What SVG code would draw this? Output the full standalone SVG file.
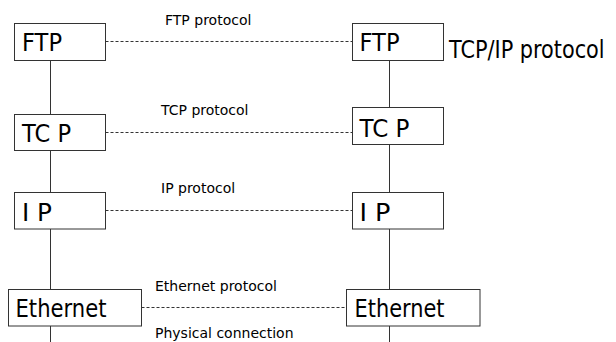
<svg xmlns="http://www.w3.org/2000/svg" width="616" height="342" viewBox="0 0 616 342">
<style>
.box{fill:#fff;stroke:#333;stroke-width:1}
.big{font-family:"DejaVu Sans","Verdana",sans-serif;font-size:24px;fill:#000}
.small{font-family:"DejaVu Sans","Verdana",sans-serif;font-size:14px;fill:#000}
.solid{stroke:#333;stroke-width:1;fill:none}
.dash{stroke:#333;stroke-width:1;fill:none;stroke-dasharray:3,2}
</style>
<rect width="616" height="342" fill="#fff"/>
<g id="connectors">
<line class="solid" x1="50.5" y1="60.5" x2="50.5" y2="114.5"/>
<line class="solid" x1="50.5" y1="150.5" x2="50.5" y2="192.5"/>
<line class="solid" x1="50.5" y1="229" x2="50.5" y2="289.5"/>
<line class="solid" x1="50.5" y1="326" x2="50.5" y2="342"/>
<line class="solid" x1="389.5" y1="60.5" x2="389.5" y2="107.5"/>
<line class="solid" x1="389.5" y1="144.5" x2="389.5" y2="192.5"/>
<line class="solid" x1="389.5" y1="229" x2="389.5" y2="289.5"/>
<line class="solid" x1="389.5" y1="326" x2="389.5" y2="342"/>
<line class="dash" x1="105.5" y1="41.5" x2="352.5" y2="41.5"/>
<line class="dash" x1="105.5" y1="132.5" x2="352.5" y2="132.5"/>
<line class="dash" x1="105.5" y1="210.5" x2="352.5" y2="210.5"/>
<line class="dash" x1="141.5" y1="307.5" x2="346.5" y2="307.5"/>
</g>
<g id="labels">
<text class="small" x="165" y="25">FTP protocol</text>
<text class="small" x="161" y="115">TCP protocol</text>
<text class="small" x="161" y="193">IP protocol</text>
<text class="small" x="155" y="291">Ethernet protocol</text>
<text class="small" x="155" y="338">Physical connection</text>
<text class="big" transform="translate(449,57.5) scale(1,1.22)" x="0" y="0" style="font-size:20.8px">TCP/IP protocol</text>
</g>
<g id="ftp-left"><rect class="box" x="14.5" y="23.5" width="91" height="37"/><text class="big" x="22" y="50.7" textLength="40" lengthAdjust="spacingAndGlyphs">FTP</text></g>
<g id="ftp-right"><rect class="box" x="352.5" y="23.5" width="91" height="37"/><text class="big" x="359.5" y="50.7" textLength="40" lengthAdjust="spacingAndGlyphs">FTP</text></g>
<g id="tcp-left"><rect class="box" x="14.5" y="114.5" width="91" height="36"/><text class="big" x="22" y="142.3" textLength="49" lengthAdjust="spacingAndGlyphs">TC P</text></g>
<g id="tcp-right"><rect class="box" x="352.5" y="107.5" width="91" height="37"/><text class="big" x="359.5" y="136.7" textLength="50" lengthAdjust="spacingAndGlyphs">TC P</text></g>
<g id="ip-left"><rect class="box" x="14.5" y="192.5" width="91" height="36.5"/><text class="big" x="22" y="220.7" textLength="30" lengthAdjust="spacingAndGlyphs">I P</text></g>
<g id="ip-right"><rect class="box" x="352.5" y="192.5" width="91" height="36.5"/><text class="big" x="359.5" y="220.5" textLength="31" lengthAdjust="spacingAndGlyphs">I P</text></g>
<g id="eth-left"><rect class="box" x="8.5" y="289.5" width="133" height="36.5"/><text class="big" x="15.5" y="317.3" textLength="91" lengthAdjust="spacingAndGlyphs">Ethernet</text></g>
<g id="eth-right"><rect class="box" x="346.5" y="289.5" width="133.5" height="36.5"/><text class="big" x="354.5" y="317.3" textLength="90" lengthAdjust="spacingAndGlyphs">Ethernet</text></g>
</svg>
